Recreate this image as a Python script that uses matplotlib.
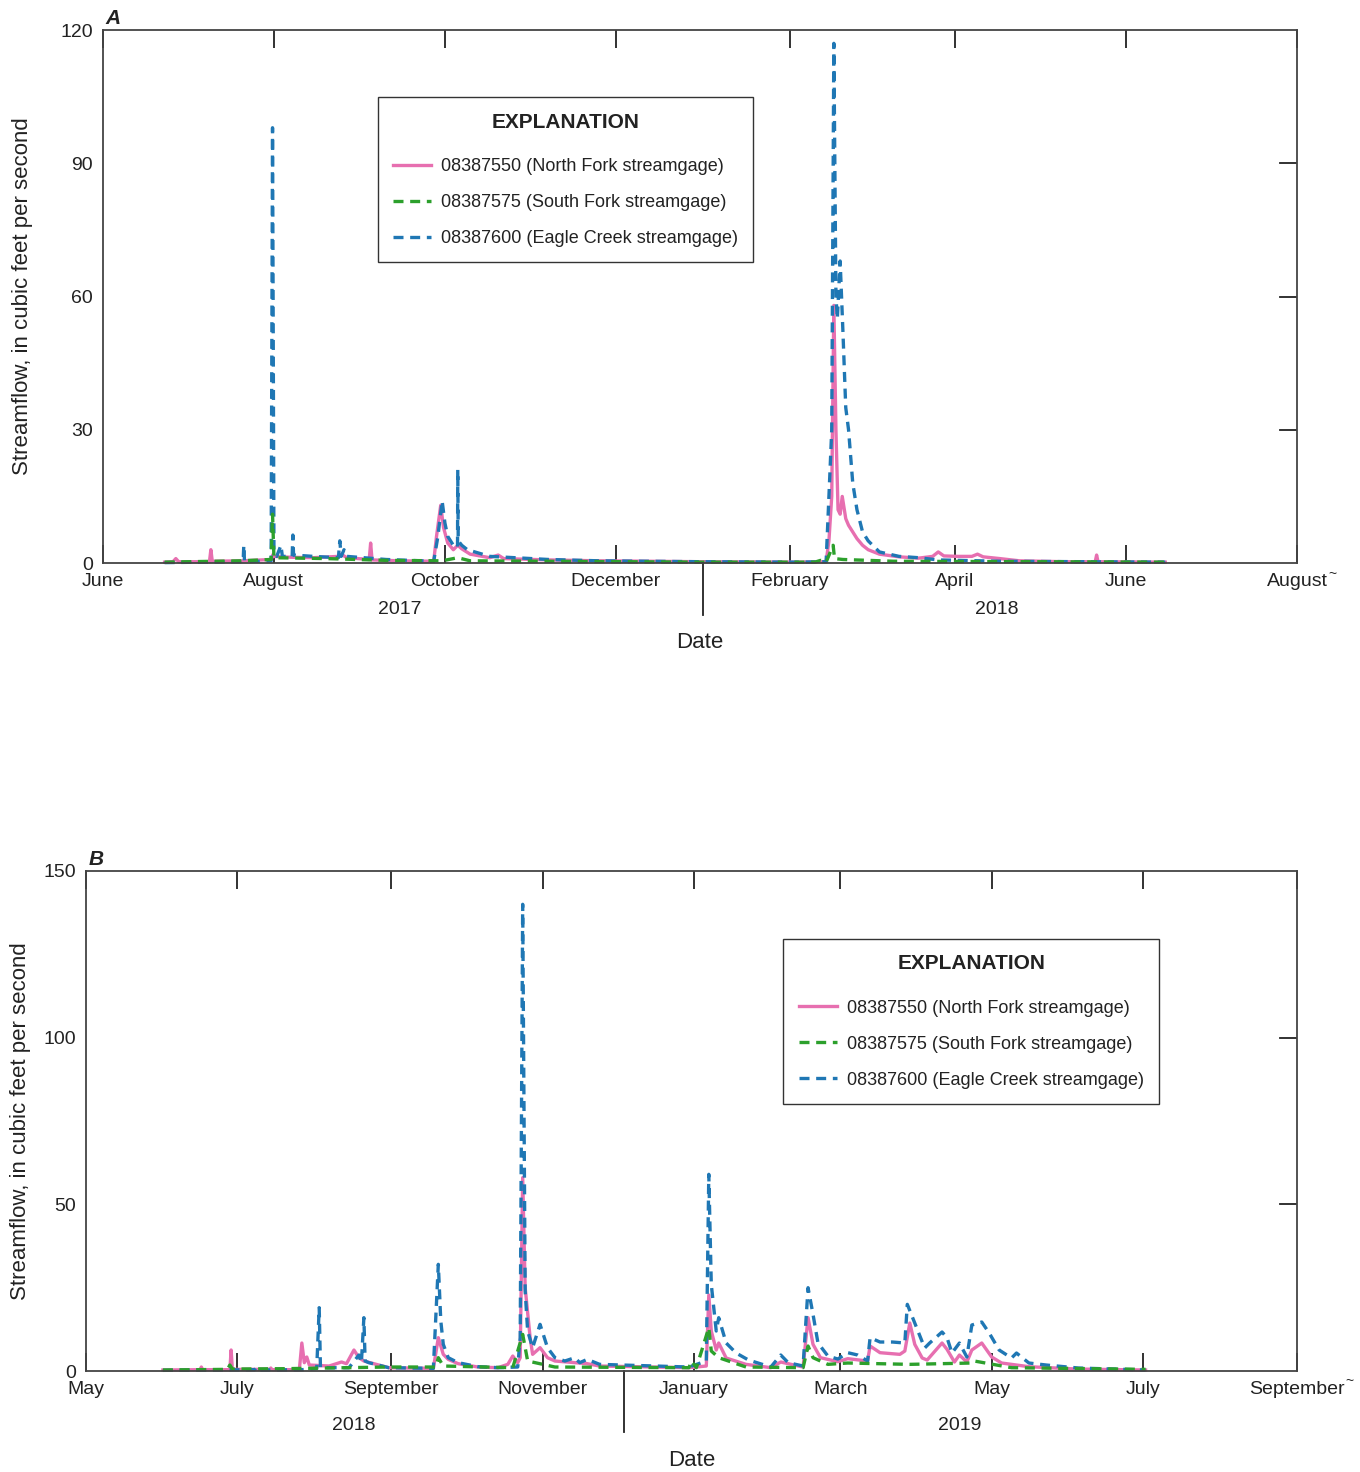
import pandas as pd
import matplotlib
matplotlib.use("Agg")
import matplotlib.pyplot as plt
import matplotlib.dates as mdates
from matplotlib.lines import Line2D
from matplotlib.transforms import blended_transform_factory

plt.rcParams["font.family"] = ["Liberation Sans", "DejaVu Sans"]

PINK = "#e76fb0"
GREEN = "#2ca02c"
BLUE = "#1f77b4"

LABELS = ["08387550 (North Fork streamgage)",
          "08387575 (South Fork streamgage)",
          "08387600 (Eagle Creek streamgage)"]

# ---- panel A, 2017-18 (date, cubic feet per second) ----
a_north = [
    ("2017-06-23", 0.2), ("2017-06-26", 0.3), ("2017-06-27", 1.0), ("2017-06-28", 0.3),
    ("2017-07-09", 0.3), ("2017-07-09 12:00", 3.0), ("2017-07-10", 0.4), ("2017-07-21", 0.5),
    ("2017-07-31", 0.8), ("2017-07-31 18:00", 2.0), ("2017-08-01", 1.5), ("2017-08-07", 1.3),
    ("2017-08-15", 1.2), ("2017-08-24", 1.5), ("2017-08-25", 2.0), ("2017-08-27", 1.2),
    ("2017-09-04", 0.8), ("2017-09-04 12:00", 4.5), ("2017-09-05", 0.7), ("2017-09-15", 0.5),
    ("2017-09-27", 0.4), ("2017-09-28", 6.0), ("2017-09-29 12:00", 13.0), ("2017-09-30 12:00", 8.0),
    ("2017-10-02", 4.5), ("2017-10-04", 3.0), ("2017-10-05 14:00", 4.0), ("2017-10-07", 3.2),
    ("2017-10-10", 2.0), ("2017-10-17", 1.2), ("2017-10-20", 1.8), ("2017-10-22", 1.0),
    ("2017-11-07", 0.7), ("2017-11-25", 0.5), ("2017-12-31", 0.3), ("2018-02-04", 0.2),
    ("2018-02-14", 0.3), ("2018-02-15", 5.0), ("2018-02-16", 15), ("2018-02-16 18:00", 58),
    ("2018-02-17 12:00", 30), ("2018-02-18 06:00", 12), ("2018-02-19", 11), ("2018-02-19 18:00", 15),
    ("2018-02-21", 10), ("2018-02-22", 8.5), ("2018-02-25", 5.5), ("2018-02-27", 4.0),
    ("2018-03-01", 3.0), ("2018-03-05", 2.0), ("2018-03-12", 1.4), ("2018-03-19", 1.1),
    ("2018-03-24", 1.5), ("2018-03-26", 2.5), ("2018-03-28", 1.6), ("2018-04-02", 1.5),
    ("2018-04-07", 1.5), ("2018-04-09", 2.0), ("2018-04-11", 1.4), ("2018-04-17", 1.0),
    ("2018-04-24", 0.5), ("2018-05-10", 0.3), ("2018-05-21", 0.3), ("2018-05-21 12:00", 1.8),
    ("2018-05-22", 0.3), ("2018-06-15", 0.2),
]
a_south = [
    ("2017-06-23", 0.2), ("2017-07-20", 0.5), ("2017-07-31", 0.8), ("2017-07-31 12:00", 11),
    ("2017-08-01", 1.2), ("2017-08-20", 1.0), ("2017-09-10", 0.6), ("2017-09-30", 0.5),
    ("2017-10-05 14:00", 1.2), ("2017-10-10", 0.5), ("2017-12-31", 0.2), ("2018-02-10", 0.2),
    ("2018-02-12", 0.6), ("2018-02-14", 0.2), ("2018-02-16 12:00", 4.0), ("2018-02-17", 1.0),
    ("2018-02-20", 0.8), ("2018-03-10", 0.4), ("2018-06-15", 0.2),
]
a_eagle = [
    ("2017-06-23", 0.1), ("2017-07-21", 0.3), ("2017-07-21 06:00", 4.0), ("2017-07-21 12:00", 0.3),
    ("2017-07-31", 0.5), ("2017-07-31 12:00", 98), ("2017-08-01", 3.0), ("2017-08-02", 1.5),
    ("2017-08-03 12:00", 4.0), ("2017-08-04", 1.5), ("2017-08-07 12:00", 1.5), ("2017-08-07 18:00", 6.3),
    ("2017-08-08", 1.8), ("2017-08-15", 1.5), ("2017-08-24", 1.2), ("2017-08-24 12:00", 5.0),
    ("2017-08-25", 1.5), ("2017-08-26", 3.0), ("2017-08-27", 1.5), ("2017-09-10", 0.8),
    ("2017-09-27", 0.4), ("2017-09-28 12:00", 6), ("2017-09-30", 14), ("2017-10-01", 9),
    ("2017-10-02", 6), ("2017-10-04", 4), ("2017-10-05 12:00", 3.5), ("2017-10-05 14:00", 21),
    ("2017-10-05 18:00", 5), ("2017-10-07", 4), ("2017-10-09", 3), ("2017-10-17", 1.5),
    ("2017-11-07", 0.8), ("2017-11-25", 0.5), ("2017-12-31", 0.3), ("2018-02-04", 0.2),
    ("2018-02-14", 0.3), ("2018-02-15", 15), ("2018-02-16", 30), ("2018-02-16 18:00", 117),
    ("2018-02-17 12:00", 60), ("2018-02-18", 55), ("2018-02-19", 68), ("2018-02-20", 52),
    ("2018-02-21", 35), ("2018-02-22", 30), ("2018-02-23 12:00", 18), ("2018-02-25", 12),
    ("2018-02-27", 7), ("2018-03-01", 5), ("2018-03-05", 2.5), ("2018-03-12", 1.5),
    ("2018-03-19", 1.2), ("2018-03-26", 0.7), ("2018-04-17", 0.4), ("2018-06-15", 0.2),
]

# ---- panel B, 2018-19 ----
b_north = [
    ("2018-06-01", 0.3), ("2018-06-16", 0.4), ("2018-06-16 12:00", 1.2), ("2018-06-17", 0.4),
    ("2018-06-28", 0.4), ("2018-06-28 12:00", 6.3), ("2018-06-29", 0.5), ("2018-07-14", 0.5),
    ("2018-07-14 12:00", 0.9), ("2018-07-15", 0.4), ("2018-07-26", 0.4), ("2018-07-27", 8.4),
    ("2018-07-28", 2.5), ("2018-07-29", 4.2), ("2018-07-30", 1.8), ("2018-08-07", 1.5),
    ("2018-08-12", 2.7), ("2018-08-14", 2.2), ("2018-08-17", 6.3), ("2018-08-19", 4),
    ("2018-08-21", 3), ("2018-08-31", 1.0), ("2018-09-18", 0.8), ("2018-09-20", 10),
    ("2018-09-22", 5), ("2018-09-24", 3.5), ("2018-09-28", 2.2), ("2018-10-06", 1.2),
    ("2018-10-14", 1.0), ("2018-10-18", 2), ("2018-10-20", 4.5), ("2018-10-22", 2.5),
    ("2018-10-23", 4), ("2018-10-24", 58), ("2018-10-25", 25), ("2018-10-27", 10),
    ("2018-10-28", 5), ("2018-10-31", 7), ("2018-11-03", 4), ("2018-11-06", 3),
    ("2018-11-19", 2.2), ("2018-11-24", 1.5), ("2018-12-30", 1.0), ("2019-01-06", 1.5),
    ("2019-01-07", 22.8), ("2019-01-08", 12), ("2019-01-10", 6.3), ("2019-01-11", 8.4),
    ("2019-01-14", 3.9), ("2019-01-22", 2), ("2019-02-01", 1.0), ("2019-02-05", 2.7),
    ("2019-02-14", 1.2), ("2019-02-16", 16), ("2019-02-18", 8), ("2019-02-21", 4),
    ("2019-02-28", 2.8), ("2019-03-04", 3.7), ("2019-03-12", 3.0), ("2019-03-13", 7.5),
    ("2019-03-17", 5.5), ("2019-03-25", 5), ("2019-03-27", 6), ("2019-03-29", 14.4),
    ("2019-03-31", 8), ("2019-04-03", 3.9), ("2019-04-05", 3.3), ("2019-04-11", 8.4),
    ("2019-04-13", 6.5), ("2019-04-16", 2.7), ("2019-04-18", 4.8), ("2019-04-21", 2.7),
    ("2019-04-23", 6.3), ("2019-04-27", 8.4), ("2019-05-01", 4.2), ("2019-05-05", 2.4),
    ("2019-05-16", 1.3), ("2019-06-04", 0.6), ("2019-07-02", 0.3),
]
b_south = [
    ("2018-06-01", 0.3), ("2018-06-27", 0.5), ("2018-06-28", 1.8), ("2018-06-29", 0.6),
    ("2018-07-20", 0.7), ("2018-08-31", 1.2), ("2018-09-19", 1.2), ("2018-09-20", 4),
    ("2018-09-22", 1.5), ("2018-10-20", 1.0), ("2018-10-24", 11), ("2018-10-26", 3),
    ("2018-11-06", 1.2), ("2018-12-30", 1.0), ("2018-12-31", 3), ("2019-01-02", 1.0),
    ("2019-01-07", 13), ("2019-01-08", 6), ("2019-01-11", 4), ("2019-01-22", 1.2),
    ("2019-02-14", 1.0), ("2019-02-16", 7.5), ("2019-02-18", 4), ("2019-02-24", 2),
    ("2019-03-04", 2.4), ("2019-03-29", 2), ("2019-04-23", 2.4), ("2019-04-24", 3),
    ("2019-05-09", 1.0), ("2019-07-02", 0.5),
]
b_eagle = [
    ("2018-06-01", 0.2), ("2018-07-08", 0.4), ("2018-07-08 12:00", 1.0), ("2018-07-09", 0.3),
    ("2018-07-27", 0.4), ("2018-08-02", 0.8), ("2018-08-03", 19), ("2018-08-03 12:00", 1.0),
    ("2018-08-15", 1.0), ("2018-08-19", 4.8), ("2018-08-20", 2.5), ("2018-08-21", 16),
    ("2018-08-21 12:00", 3), ("2018-08-23", 2.5), ("2018-08-31", 1.0), ("2018-09-18", 0.8),
    ("2018-09-20", 32), ("2018-09-21", 15), ("2018-09-22", 8), ("2018-09-24", 4),
    ("2018-09-28", 2.5), ("2018-10-06", 1.3), ("2018-10-14", 1.0), ("2018-10-22", 1.2),
    ("2018-10-23", 10), ("2018-10-24", 140), ("2018-10-25", 24), ("2018-10-26", 12),
    ("2018-10-28", 7), ("2018-10-31", 14), ("2018-11-03", 7), ("2018-11-06", 4),
    ("2018-11-10", 3), ("2018-11-14", 4), ("2018-11-16", 2.5), ("2018-11-19", 3.5),
    ("2018-11-24", 2), ("2018-12-30", 1.2), ("2019-01-06", 3), ("2019-01-07", 59),
    ("2019-01-08", 26), ("2019-01-10", 12), ("2019-01-11", 16), ("2019-01-14", 8.4),
    ("2019-01-18", 5.4), ("2019-01-23", 3.3), ("2019-02-01", 1.2), ("2019-02-05", 4.8),
    ("2019-02-08", 2.5), ("2019-02-14", 1.5), ("2019-02-16", 25), ("2019-02-18", 17),
    ("2019-02-20", 8.4), ("2019-02-24", 4.5), ("2019-02-28", 3.6), ("2019-03-04", 5.5),
    ("2019-03-08", 4.8), ("2019-03-12", 3), ("2019-03-13", 10), ("2019-03-17", 8.7),
    ("2019-03-22", 8.7), ("2019-03-27", 8.4), ("2019-03-28", 20), ("2019-03-31", 14.4),
    ("2019-04-04", 6.9), ("2019-04-06", 8.4), ("2019-04-11", 11.7), ("2019-04-13", 10),
    ("2019-04-15", 5.4), ("2019-04-18", 8.4), ("2019-04-21", 4.2), ("2019-04-23", 13.8),
    ("2019-04-27", 14.7), ("2019-04-30", 11.4), ("2019-05-04", 6.3), ("2019-05-09", 3.9),
    ("2019-05-11", 5.4), ("2019-05-16", 2.4), ("2019-05-23", 1.8), ("2019-06-05", 0.9),
    ("2019-07-02", 0.3),
]

a_range = ("2017-06-01", "2018-08-01")
b_range = ("2018-05-01", "2019-09-01")
a_years = [("2017-09-15", "2017"), ("2018-04-16", "2018")]
b_years = [("2018-08-17", "2018"), ("2019-04-18", "2019")]
a_split = "2018-01-01"
b_split = "2018-12-04"
a_yticks = [0, 30, 60, 90, 120]
b_yticks = [0, 50, 100, 150]


def series(pairs):
    return pd.to_datetime([p[0] for p in pairs], format="mixed"), [p[1] for p in pairs]


def panel(ax, north, south, eagle, xr, years, split, yticks, letter,
          leg_xy, ylab_x, year_y, split_y, date_y, tilde_x):
    for data, col, ls in [(north, PINK, "-"), (eagle, BLUE, "--"), (south, GREEN, "--")]:
        x, y = series(data)
        ln, = ax.plot(x, y, color=col, lw=2.4, ls=ls, clip_on=False)
        if ls == "--":
            ln.set_dashes((3, 2))
    ax.set_xlim(pd.Timestamp(xr[0]), pd.Timestamp(xr[1]))
    ax.set_ylim(yticks[0], yticks[-1])
    ax.set_yticks(yticks)
    ax.xaxis.set_major_locator(mdates.MonthLocator(bymonthday=1, interval=2))
    ax.xaxis.set_major_formatter(mdates.DateFormatter("%B"))
    ax.tick_params(axis="x", direction="in", length=13, width=1.3, top=True,
                   labelsize=14, pad=7, color="#222222", labelcolor="#222222")
    ax.tick_params(axis="y", direction="in", length=0, right=False, labelsize=14, pad=7,
                   labelcolor="#222222")
    for s in ax.spines.values():
        s.set_color("#444444")
        s.set_linewidth(1.3)
    # right side ticks
    tr = blended_transform_factory(ax.transAxes, ax.transData)
    for v in yticks[1:-1]:
        ax.plot([0.986, 1.0], [v, v], color="#222222", lw=1.3, transform=tr)
    bt = blended_transform_factory(ax.transData, ax.transAxes)
    for d, t in years:
        ax.text(pd.Timestamp(d), year_y, t, transform=bt, ha="center", va="center",
                fontsize=14, color="#222222")
    ax.plot([pd.Timestamp(split)] * 2, [0, split_y], color="#222222", lw=1.3,
            transform=bt, clip_on=False)
    ax.text(0.5, date_y, "Date", transform=ax.transAxes, ha="center", va="center",
            fontsize=16, color="#222222")
    ax.text(tilde_x, -0.02, "~", transform=ax.transAxes, ha="left", va="center",
            fontsize=10, color="#222222")
    ax.text(0.002, 1.003, letter, transform=ax.transAxes, ha="left", va="bottom",
            fontsize=15, fontweight="bold", fontstyle="italic", color="#222222")
    ax.set_ylabel("Streamflow, in cubic feet per second", fontsize=16, color="#222222")
    ax.yaxis.set_label_coords(ylab_x, 0.5)

    handles = [Line2D([], [], color=PINK, lw=2.4),
               Line2D([], [], color=GREEN, lw=2.4, ls="--", dashes=(3, 2)),
               Line2D([], [], color=BLUE, lw=2.4, ls="--", dashes=(3, 2))]
    leg = ax.legend(handles, LABELS, loc="upper left", bbox_to_anchor=leg_xy, borderaxespad=0,
                    title="EXPLANATION", fontsize=13,
                    title_fontproperties={"weight": "bold", "size": 15},
                    fancybox=False, edgecolor="#333333", framealpha=1, labelspacing=1.05,
                    handlelength=2.1, borderpad=0.85, handletextpad=0.55)
    leg.get_frame().set_linewidth(1.0)
    for t in leg.get_texts():
        t.set_color("#222222")
    leg.get_title().set_color("#222222")
    leg._legend_box.sep = 19


fig = plt.figure(figsize=(13.6, 14.72), dpi=100)
ax1 = fig.add_axes([0.0757, 0.6175, 0.878, 0.3621])
ax2 = fig.add_axes([0.0632, 0.0686, 0.8904, 0.3397])

panel(ax1, a_north, a_south, a_eagle, a_range, a_years, a_split, a_yticks, "A",
      (0.230, 0.874), -0.059, -0.088, -0.098, -0.150, 1.026)
panel(ax2, b_north, b_south, b_eagle, b_range, b_years, b_split, b_yticks, "B",
      (0.576, 0.864), -0.045, -0.108, -0.122, -0.178, 1.040)

fig.savefig("out.png", dpi=100)
